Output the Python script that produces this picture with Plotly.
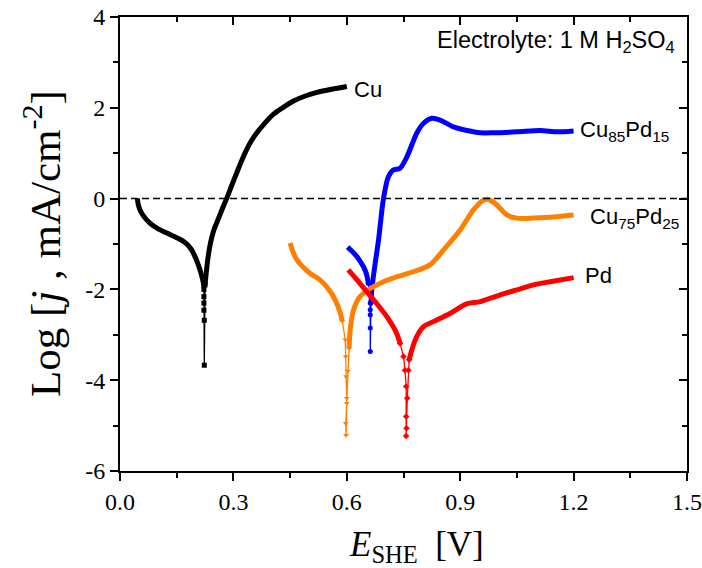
import plotly.graph_objects as go

# ---- Potentiodynamic polarisation data: E vs SHE [V], log current density ----
# Each sample is split into a cathodic branch, the sparse points around the
# corrosion potential, and the anodic branch.

cu_cath_E = [0.046, 0.048, 0.053, 0.062, 0.079, 0.100, 0.124, 0.150, 0.166, 0.178, 0.188, 0.197, 0.205, 0.212, 0.218, 0.222]
cu_cath_j = [0.00, -0.12, -0.25, -0.38, -0.54, -0.66, -0.76, -0.86, -0.93, -1.01, -1.11, -1.25, -1.41, -1.58, -1.76, -1.92]
cu_tip_E = [0.222, 0.222, 0.222, 0.222, 0.223, 0.223]
cu_tip_j = [-2.00, -2.16, -2.30, -2.46, -2.68, -3.67]
cu_anod_E = [0.225, 0.228, 0.232, 0.237, 0.243, 0.250, 0.260, 0.270, 0.282, 0.296, 0.309, 0.322,
             0.335, 0.348, 0.362, 0.385, 0.406, 0.430, 0.459, 0.490, 0.521, 0.560, 0.600]
cu_anod_j = [-1.90, -1.65, -1.35, -1.08, -0.85, -0.65, -0.45, -0.24, 0.00, 0.30, 0.57, 0.84,
             1.08, 1.28, 1.45, 1.68, 1.86, 2.00, 2.15, 2.26, 2.34, 2.41, 2.47]

c85_cath_E = [0.602, 0.615, 0.627, 0.644, 0.652, 0.657]
c85_cath_j = [-1.07, -1.17, -1.28, -1.50, -1.66, -1.87]
c85_tip_E = [0.660, 0.662, 0.662, 0.662, 0.662, 0.662]
c85_tip_j = [-2.05, -2.30, -2.45, -2.56, -2.85, -3.37]
c85_anod_E = [0.664, 0.666, 0.675, 0.684, 0.697, 0.710, 0.723, 0.741, 0.759, 0.785, 0.803,
              0.825, 0.847, 0.882, 0.918, 0.953, 0.988, 1.050, 1.112, 1.156, 1.200]
c85_anod_j = [-2.30, -2.01, -1.43, -0.91, 0.00, 0.48, 0.63, 0.67, 0.92, 1.44, 1.66,
              1.77, 1.73, 1.58, 1.50, 1.45, 1.45, 1.47, 1.50, 1.47, 1.49]

c75_cath_E = [0.450, 0.458, 0.468, 0.480, 0.492, 0.505, 0.529, 0.556, 0.572, 0.582, 0.588]
c75_cath_j = [-0.98, -1.18, -1.35, -1.47, -1.57, -1.66, -1.79, -2.04, -2.28, -2.50, -2.70]
c75_tip_E = [0.596, 0.597, 0.598, 0.600, 0.597, 0.598, 0.600, 0.603]
c75_tip_j = [-3.11, -3.48, -3.92, -4.51, -4.95, -5.21, -4.40, -3.80]
c75_anod_E = [0.606, 0.609, 0.618, 0.635, 0.662, 0.697, 0.741, 0.780, 0.820, 0.856, 0.900,
              0.935, 0.962, 0.975, 0.997, 1.023, 1.050, 1.094, 1.138, 1.200]
c75_anod_j = [-3.30, -2.89, -2.45, -2.16, -1.98, -1.83, -1.70, -1.60, -1.46, -1.13, -0.69,
              -0.25, -0.03, -0.02, -0.14, -0.36, -0.43, -0.43, -0.41, -0.36]

pd_cath_E = [0.604, 0.627, 0.653, 0.679, 0.706, 0.732, 0.741]
pd_cath_j = [-1.57, -1.79, -2.05, -2.31, -2.60, -2.97, -3.19]
pd_tip_E = [0.750, 0.754, 0.757, 0.757, 0.758, 0.757, 0.760, 0.763]
pd_tip_j = [-3.48, -3.78, -4.14, -4.80, -5.06, -5.23, -4.40, -3.78]
pd_anod_E = [0.765, 0.772, 0.785, 0.803, 0.829, 0.873, 0.917, 0.953, 1.006, 1.050, 1.094, 1.138, 1.200]
pd_anod_j = [-3.55, -3.33, -3.04, -2.82, -2.71, -2.53, -2.32, -2.27, -2.12, -2.01, -1.90, -1.83, -1.74]

x_tick_vals = [0.0, 0.3, 0.6, 0.9, 1.2, 1.5]
x_tick_text = ["0.0", "0.3", "0.6", "0.9", "1.2", "1.5"]
y_tick_vals = [-6, -4, -2, 0, 2, 4]
y_tick_text = ["-6", "-4", "-2", "0", "2", "4"]

series = [
    ("Cu", "#000000", "square",
     (cu_cath_E, cu_cath_j), (cu_tip_E, cu_tip_j), (cu_anod_E, cu_anod_j)),
    ("Cu85Pd15", "#0000FF", "circle",
     (c85_cath_E, c85_cath_j), (c85_tip_E, c85_tip_j), (c85_anod_E, c85_anod_j)),
    ("Cu75Pd25", "#FF8000", "triangle-down",
     (c75_cath_E, c75_cath_j), (c75_tip_E, c75_tip_j), (c75_anod_E, c75_anod_j)),
    ("Pd", "#FF0000", "diamond",
     (pd_cath_E, pd_cath_j), (pd_tip_E, pd_tip_j), (pd_anod_E, pd_anod_j)),
]

SERIF = "Liberation Serif, Times New Roman, serif"
SANS = "Liberation Sans, Arial, sans-serif"

fig = go.Figure()

for name, color, symbol, cath, tip, anod in series:
    # thin segment with markers around the corrosion potential
    tx = [cath[0][-1]] + tip[0] + [anod[0][0]]
    ty = [cath[1][-1]] + tip[1] + [anod[1][0]]
    fig.add_trace(go.Scatter(x=tx, y=ty, mode="lines+markers",
                             line=dict(color=color, width=1.3),
                             marker=dict(color=color, size=5, symbol=symbol),
                             name=name, hoverinfo="skip"))
    for bx, by in (cath, anod):
        fig.add_trace(go.Scatter(x=bx, y=by, mode="lines",
                                 line=dict(color=color, width=5, shape="spline", smoothing=0.8),
                                 name=name))

# empty trace that carries the mirrored (inward-ticked) top and right axes
fig.add_trace(go.Scatter(x=[], y=[], xaxis="x2", yaxis="y2", showlegend=False))

# zero-current reference line
fig.add_shape(type="line", xref="paper", x0=0, x1=1, yref="y", y0=0, y1=0,
              line=dict(color="black", width=1.5, dash="7px,4px"))

tick_font = dict(family=SERIF, size=24, color="black")

fig.update_layout(
    width=702, height=568,
    margin=dict(l=120, r=15, t=17, b=97, autoexpand=False),
    paper_bgcolor="white", plot_bgcolor="white",
    showlegend=False,
    xaxis=dict(range=[0, 1.5], tickvals=x_tick_vals, ticktext=x_tick_text,
               ticks="outside", mirror=True, automargin=False,
               showgrid=False, zeroline=False, linecolor="black", linewidth=2,
               tickcolor="black", tickwidth=2, ticklen=8, tickfont=tick_font,
               minor=dict(tick0=0, dtick=0.15, ticks="outside", ticklen=5,
                          tickwidth=2, tickcolor="black")),
    yaxis=dict(range=[-6, 4], tickvals=y_tick_vals, ticktext=y_tick_text,
               ticks="outside", mirror=True, automargin=False,
               showgrid=False, zeroline=False, linecolor="black", linewidth=2,
               tickcolor="black", tickwidth=2, ticklen=8, tickfont=tick_font,
               minor=dict(tick0=0, dtick=1, ticks="outside", ticklen=5,
                          tickwidth=2, tickcolor="black")),
    xaxis2=dict(range=[0, 1.5], overlaying="x", side="top", anchor="y2",
                tickvals=x_tick_vals, showticklabels=False, ticks="inside",
                ticklen=8, tickwidth=2, tickcolor="black", showline=False,
                showgrid=False, zeroline=False, automargin=False,
                minor=dict(tick0=0, dtick=0.15, ticks="inside", ticklen=5,
                           tickwidth=2, tickcolor="black")),
    yaxis2=dict(range=[-6, 4], overlaying="y", side="right", anchor="x2",
                tickvals=y_tick_vals, showticklabels=False, ticks="inside",
                ticklen=8, tickwidth=2, tickcolor="black", showline=False,
                showgrid=False, zeroline=False, automargin=False,
                minor=dict(tick0=0, dtick=1, ticks="inside", ticklen=5,
                           tickwidth=2, tickcolor="black")),
)

label_font = dict(family=SANS, size=22, color="black")
labels = [
    ("Cu", 0.614, 2.40),
    ("Cu<sub>85</sub>Pd<sub>15</sub>", 1.212, 1.48),
    ("Cu<sub>75</sub>Pd<sub>25</sub>", 1.237, -0.42),
    ("Pd", 1.226, -1.70),
]
for text, lx, ly in labels:
    fig.add_annotation(x=lx, y=ly, xref="x", yref="y", text=text, showarrow=False,
                       xanchor="left", yanchor="middle", font=label_font)

fig.add_annotation(x=0.983, y=3.47, xref="paper", yref="y",
                   text="Electrolyte: 1 M H<sub>2</sub>SO<sub>4</sub>", showarrow=False,
                   xanchor="right", yanchor="middle",
                   font=dict(family=SANS, size=23.5, color="black"))

# axis titles
fig.add_annotation(x=(416 - 120) / 567, y=(471 - 546) / 454, xref="paper", yref="paper",
                   text="<i>E</i><sub>SHE</sub>  [V]", showarrow=False,
                   xanchor="center", yanchor="middle",
                   font=dict(family=SERIF, size=35, color="black"))
fig.add_annotation(x=(42 - 120) / 567, y=0.5, xref="paper", yref="paper",
                   text="Log [<i>j</i> , mA/cm<sup>-2</sup>]", showarrow=False, textangle=-90,
                   xanchor="center", yanchor="middle",
                   font=dict(family=SERIF, size=43, color="black"))

fig.write_html("out.html")
